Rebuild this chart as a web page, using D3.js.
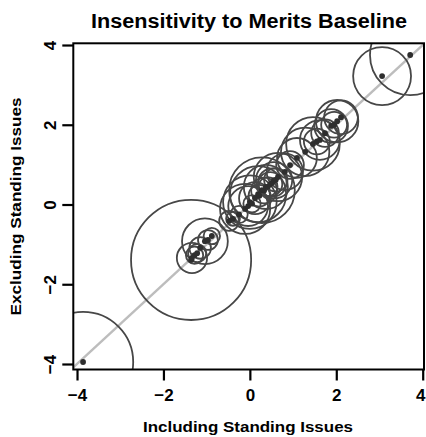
<!DOCTYPE html>
<html>
<head>
<meta charset="utf-8">
<script src="https://cdn.jsdelivr.net/npm/d3@7"></script>
<style>
html,body{margin:0;padding:0;background:#fff;}
svg{display:block;}
text{font-family:"Liberation Sans",Arial,sans-serif;font-weight:bold;fill:#000;}
</style>
</head>
<body>
<svg id="chart" width="426" height="437"></svg>
<script>
// Data: estimate (including standing issues), estimate (excluding), radius (data units)
const including = [-3.86,-1.36,-1.34,-1.28,-1.22,-1.15,-1.04,-0.97,-0.88,-0.48,-0.39,-0.25,-0.11,-0.04,0.00,0.05,0.12,0.19,0.22,0.28,0.33,0.37,0.42,0.47,0.52,0.56,0.60,0.65,0.81,0.93,1.09,1.28,1.46,1.55,1.62,1.74,1.88,1.95,2.02,2.11,3.06,3.71];
const excluding = [-3.95,-1.39,-1.34,-1.27,-1.22,-1.09,-0.92,-0.89,-0.79,-0.41,-0.36,-0.25,-0.11,-0.04,0.06,0.02,0.16,0.26,0.22,0.36,0.35,0.44,0.45,0.51,0.55,0.61,0.62,0.69,0.82,0.99,1.17,1.32,1.52,1.58,1.62,1.79,1.97,2.00,2.09,2.19,3.22,3.75];
const radius = [1.16,1.39,0.35,0.20,0.21,0.25,0.53,0.23,0.19,0.23,0.16,0.20,0.58,0.46,0.62,0.20,0.37,0.65,0.25,0.76,0.30,0.51,0.22,0.28,0.33,0.42,0.27,0.56,0.42,0.32,0.46,0.56,0.62,0.30,0.46,0.32,0.39,0.30,0.49,0.39,0.67,0.93];
const xTicks = [-4,-2,0,2,4];
const yTicks = [-4,-2,0,2,4];
const title = "Insensitivity to Merits Baseline";
const xLabel = "Including Standing Issues";
const yLabel = "Excluding Standing Issues";

const data = including.map((d,i)=>({x:d, y:excluding[i], r:radius[i]}));

const svg = d3.select("#chart");
const L = 73.3, R = 424, T = 43.3, B = 369.5;
const x = d3.scaleLinear().domain([-4.086, 4.03]).range([L, R]);
const y = d3.scaleLinear().domain([-4.138, 4.043]).range([B, T]);
const rScale = d3.scaleLinear().domain([0,1]).range([0, x(1)-x(0)]);

svg.append("defs").append("clipPath").attr("id","clip")
  .append("rect").attr("x",L).attr("y",T).attr("width",R-L).attr("height",B-T);

const plot = svg.append("g").attr("clip-path","url(#clip)");

// diagonal reference line
plot.append("line")
  .attr("x1", x(-5)).attr("y1", y(-5)).attr("x2", x(5)).attr("y2", y(5))
  .attr("stroke","#bdbdbd").attr("stroke-width",2.4);

plot.selectAll("circle.ring").data(data).join("circle")
  .attr("class","ring")
  .attr("cx", d=>x(d.x)).attr("cy", d=>y(d.y)).attr("r", d=>rScale(d.r))
  .attr("fill","none").attr("stroke","#474747").attr("stroke-width",1.8);

plot.selectAll("circle.dot").data(data).join("circle")
  .attr("class","dot")
  .attr("cx", d=>x(d.x)).attr("cy", d=>y(d.y)).attr("r", 2.9)
  .attr("fill","#2e2e2e");

// box
svg.append("rect").attr("x",L).attr("y",T).attr("width",R-L).attr("height",B-T)
  .attr("fill","none").attr("stroke","#000").attr("stroke-width",2);

const fmt = d => d < 0 ? "\u2212" + Math.abs(d) : d;

// x axis
const xAxis = d3.axisBottom(x).tickValues(xTicks).tickSize(11).tickPadding(6).tickFormat(fmt);
const gx = svg.append("g").attr("transform",`translate(0,${B})`).call(xAxis);
gx.select(".domain").remove();
gx.selectAll(".tick line").attr("stroke","#000").attr("stroke-width",2.2);
gx.selectAll(".tick text").attr("font-size",17).attr("font-family","Liberation Sans, Arial, sans-serif")
  .attr("font-weight","bold").attr("fill","#000").attr("dy",null).attr("y",31)
  .attr("x", d => d === 4 ? -2.5 : 0);

// y axis (labels parallel to axis)
const yAxis = d3.axisLeft(y).tickValues(yTicks).tickSize(11).tickPadding(5).tickFormat(fmt);
const gy = svg.append("g").attr("transform",`translate(${L},0)`).call(yAxis);
gy.select(".domain").remove();
gy.selectAll(".tick line").attr("stroke","#000").attr("stroke-width",2.2);
gy.selectAll(".tick text")
  .attr("font-size",17).attr("font-family","Liberation Sans, Arial, sans-serif").attr("font-weight","bold").attr("fill","#000")
  .attr("text-anchor","middle").attr("x",null).attr("dy",null)
  .attr("transform","translate(-17,0) rotate(-90)");

// title & labels
svg.append("text").attr("x", 249).attr("y", 28).attr("text-anchor","middle")
  .attr("font-size",20).attr("textLength",316).attr("lengthAdjust","spacingAndGlyphs").text(title);
svg.append("text").attr("x", 248).attr("y", 432).attr("text-anchor","middle")
  .attr("font-size",15.5).attr("textLength",210).attr("lengthAdjust","spacingAndGlyphs").text(xLabel);
svg.append("text").attr("transform",`translate(21,${(T+B)/2}) rotate(-90)`).attr("text-anchor","middle")
  .attr("font-size",15.5).attr("textLength",218).attr("lengthAdjust","spacingAndGlyphs").text(yLabel);
</script>
</body>
</html>
